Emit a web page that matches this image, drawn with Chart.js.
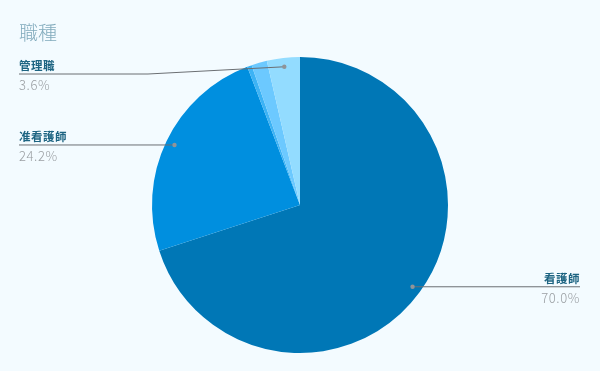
<!DOCTYPE html>
<html><head><meta charset="utf-8">
<script src="https://cdn.jsdelivr.net/npm/chart.js@4"></script>
<style>html,body{margin:0;padding:0;background:#f3fbff;}#wrap{width:600px;height:371px;}</style>
</head><body><div id="wrap"><canvas id="c" width="600" height="371"></canvas></div>
<script>
const title = "職種";
const categories = ["看護師", "准看護師", "その他A", "その他B", "管理職"];
const values = [70.0, 24.2, 0.5, 1.7, 3.6];
const showLabel = [true, true, false, false, true];
const colors = ["#0077b6", "#008fdf", "#3db3f5", "#6cc9ff", "#93dcff"];

const FONT = "'Noto Sans CJK JP', 'Noto Sans', sans-serif";
const calloutPlugin = {
  id: 'callout',
  afterDraw(chart) {
    const ctx = chart.ctx;
    ctx.save();
    ctx.fillStyle = "#80aabc";
    ctx.font = "300 19px " + FONT;
    ctx.textBaseline = "middle";
    ctx.textAlign = "left";
    ctx.fillText(title, 19, 33);
    const meta = chart.getDatasetMeta(0);
    meta.data.forEach((arc, i) => {
      if (!showLabel[i]) return;
      const mid = (arc.startAngle + arc.endAngle) / 2;
      const r = arc.outerRadius * 0.94;
      const dx = arc.x + Math.cos(mid) * r;
      const dy = arc.y + Math.sin(mid) * r;
      const left = dx < arc.x;
      const lineY = Math.max(dy, 74);
      const endX = left ? 19 : 580;
      ctx.strokeStyle = "#6b6f73";
      ctx.lineWidth = 1;
      ctx.beginPath();
      ctx.moveTo(dx, dy);
      if (lineY !== dy) {
        ctx.lineTo(148, lineY);
      }
      ctx.lineTo(endX, lineY);
      ctx.stroke();
      ctx.fillStyle = "#8f9499";
      ctx.beginPath();
      ctx.arc(dx, dy, 2.2, 0, Math.PI * 2);
      ctx.fill();
      ctx.textAlign = left ? "left" : "right";
      ctx.textBaseline = "alphabetic";
      ctx.fillStyle = "#1d6482";
      ctx.font = "bold 11.5px " + FONT;
      ctx.letterSpacing = "0.5px";
      ctx.fillText(categories[i], endX, lineY - 4);
      ctx.fillStyle = "#9a9fa3";
      ctx.font = "300 13px " + FONT;
      ctx.letterSpacing = "0.6px";
      ctx.fillText(values[i].toFixed(1) + "%", endX, lineY + 16);
      ctx.letterSpacing = "0px";
    });
    ctx.restore();
  }
};

new Chart(document.getElementById('c'), {
  type: 'pie',
  data: {
    labels: categories,
    datasets: [{ data: values, backgroundColor: colors, borderWidth: 0 }]
  },
  options: {
    responsive: false,
    animation: false,
    layout: { padding: { top: 57, bottom: 18 } },
    plugins: { legend: { display: false }, tooltip: { enabled: false } }
  },
  plugins: [calloutPlugin]
});
</script>
</body></html>
